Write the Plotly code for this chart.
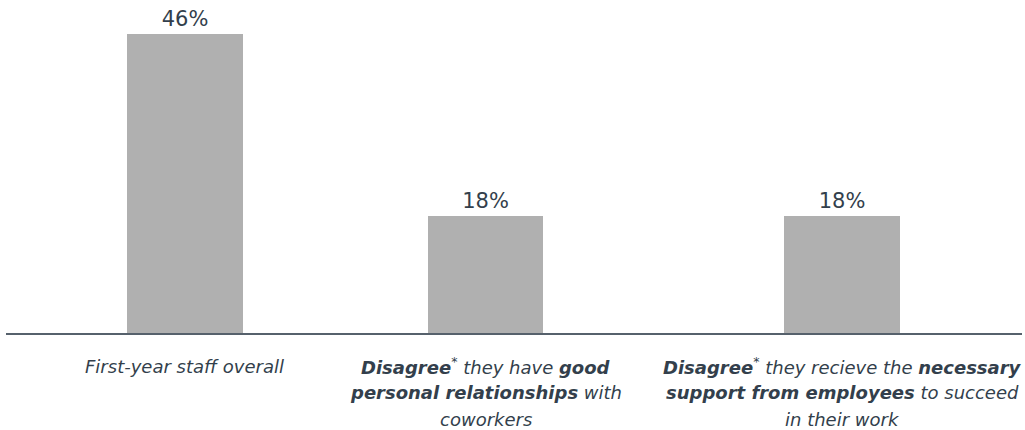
import plotly.graph_objects as go

label_lines = [
    ["<i>First-year staff overall</i>"],
    ["<b><i>Disagree</i></b><sup>*</sup><i> they have </i><b><i>good</i></b>",
     "<b><i>personal relationships</i></b><i> with</i>",
     "<i>coworkers</i>"],
    ["<b><i>Disagree</i></b><sup>*</sup><i> they recieve the </i><b><i>necessary</i></b>",
     "<b><i>support from employees</i></b><i> to succeed</i>",
     "<i>in their work</i>"],
]
values = [46, 18, 18]
positions = [0, 1, 2.186]

text_color = "#333f4c"
bar_color = "#b0b0b0"

fig = go.Figure()
fig.add_trace(go.Bar(
    x=positions,
    y=values,
    width=0.385,
    marker=dict(color=bar_color, line=dict(width=0)),
    text=[f"{v}%" for v in values],
    textposition="outside",
    textfont=dict(family="DejaVu Sans", size=21, color=text_color),
    cliponaxis=False,
    hoverinfo="skip",
))

for xp, lines in zip(positions, label_lines):
    for i, line in enumerate(lines):
        fig.add_annotation(
            x=xp, xref="x", y=0, yref="paper",
            yshift=-33 - 26.5 * i, yanchor="middle", xanchor="center",
            text=line, showarrow=False, align="center",
            font=dict(family="DejaVu Sans", size=18, color=text_color),
        )

fig.update_layout(
    width=1025, height=430,
    margin=dict(l=6, r=3, t=8, b=97),
    paper_bgcolor="white", plot_bgcolor="white",
    showlegend=False,
    xaxis=dict(range=[-0.5947, 2.784], showticklabels=False, showgrid=False,
               zeroline=False, showline=True, linecolor="#56616c", linewidth=2,
               ticks=""),
    yaxis=dict(range=[0, 50], visible=False),
    bargap=0,
)

fig.write_html(
    "out.html",
    config={"displayModeBar": False},
    post_script="document.body.style.margin='0';document.body.style.overflow='hidden';",
)
